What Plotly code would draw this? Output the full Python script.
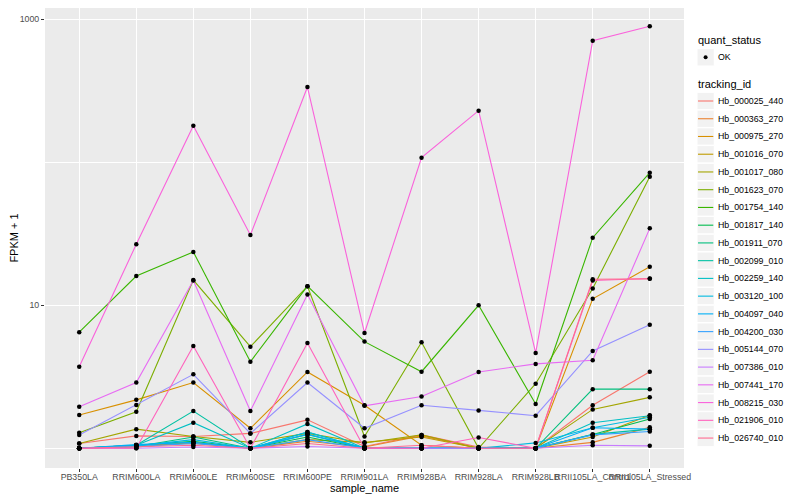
import plotly.graph_objects as go

samples = ["PB350LA", "RRIM600LA", "RRIM600LE", "RRIM600SE", "RRIM600PE",
           "RRIM901LA", "RRIM928BA", "RRIM928LA", "RRIM928LB",
           "RRII105LA_Control", "RRII105LA_Stressed"]

tracking_ids = ["Hb_000025_440", "Hb_000363_270", "Hb_000975_270", "Hb_001016_070",
                "Hb_001017_080", "Hb_001623_070", "Hb_001754_140", "Hb_001817_140",
                "Hb_001911_070", "Hb_002099_010", "Hb_002259_140", "Hb_003120_100",
                "Hb_004097_040", "Hb_004200_030", "Hb_005144_070", "Hb_007386_010",
                "Hb_007441_170", "Hb_008215_030", "Hb_021906_010", "Hb_026740_010"]

colors = ["#F8766D", "#EA8331", "#D89000", "#C09B00", "#A3A500", "#7CAE00",
          "#39B600", "#00BB4E", "#00BF7D", "#00C1A3", "#00BFC4", "#00BAE0",
          "#00B0F6", "#35A2FF", "#9590FF", "#C77CFF", "#E76BF3", "#FA62DB",
          "#FF62BC", "#FF6C91"]

quant_status = ["OK"]

# FPKM + 1 per sample
hb_000025_440 = [1.08, 1.22, 1.21, 1.27, 1.58, 1.03, 1.24, 1.02, 1.00, 2.00, 3.43]
hb_000363_270 = [1.00, 1.05, 1.08, 1.00, 1.12, 1.02, 1.22, 1.00, 1.00, 1.10, 1.40]
hb_000975_270 = [1.71, 2.18, 2.88, 1.38, 3.42, 2.00, 1.05, 1.00, 1.00, 11.1, 18.6]
hb_001016_070 = [1.00, 1.02, 1.10, 1.00, 1.15, 1.10, 1.20, 1.00, 1.00, 1.20, 1.70]
hb_001017_080 = [1.08, 1.36, 1.21, 1.10, 1.27, 1.09, 1.24, 1.00, 1.00, 1.87, 2.27]
hb_001623_070 = [1.285, 1.80, 15.0, 5.13, 13.6, 1.21, 5.51, 1.00, 2.83, 13.1, 79.3]
hb_001754_140 = [6.48, 16.0, 23.6, 4.03, 13.6, 5.57, 3.43, 10.0, 2.04, 29.7, 84.6]
hb_001817_140 = [1.00, 1.05, 1.12, 1.00, 1.20, 1.00, 1.00, 1.00, 1.00, 1.25, 1.60]
hb_001911_070 = [1.00, 1.03, 1.20, 1.00, 1.25, 1.00, 1.00, 1.00, 1.00, 2.59, 2.59]
hb_002099_010 = [1.00, 1.05, 1.82, 1.00, 1.30, 1.00, 1.00, 1.00, 1.00, 1.25, 1.36]
hb_002259_140 = [1.00, 1.05, 1.51, 1.00, 1.48, 1.00, 1.00, 1.00, 1.00, 1.51, 1.69]
hb_003120_100 = [1.00, 1.04, 1.15, 1.00, 1.30, 1.00, 1.00, 1.00, 1.09, 1.39, 1.65]
hb_004097_040 = [1.00, 1.06, 1.10, 1.00, 1.25, 1.00, 1.00, 1.00, 1.00, 1.39, 1.36]
hb_004200_030 = [1.00, 1.03, 1.08, 1.00, 1.15, 1.00, 1.00, 1.00, 1.00, 1.24, 1.31]
hb_005144_070 = [1.24, 2.01, 3.29, 1.27, 2.88, 1.38, 2.00, 1.84, 1.69, 4.79, 7.32]
hb_007386_010 = [1.00, 1.00, 1.02, 1.00, 1.03, 1.00, 1.00, 1.00, 1.00, 1.05, 1.04]
hb_007441_170 = [1.95, 2.88, 14.9, 1.82, 11.9, 1.98, 2.30, 3.42, 3.89, 4.13, 34.5]
hb_008215_030 = [3.72, 26.7, 180.0, 31.0, 336.0, 6.40, 107.7, 229.5, 4.64, 708.0, 894.0]
hb_021906_010 = [1.00, 1.00, 5.19, 1.00, 5.45, 1.00, 1.00, 1.19, 1.00, 14.9, 15.4]
hb_026740_010 = [1.00, 1.02, 1.05, 1.00, 1.08, 1.00, 1.05, 1.00, 1.00, 15.2, 15.3]

series = [hb_000025_440, hb_000363_270, hb_000975_270, hb_001016_070, hb_001017_080,
          hb_001623_070, hb_001754_140, hb_001817_140, hb_001911_070, hb_002099_010,
          hb_002259_140, hb_003120_100, hb_004097_040, hb_004200_030, hb_005144_070,
          hb_007386_010, hb_007441_170, hb_008215_030, hb_021906_010, hb_026740_010]

FONT = "Liberation Sans, Arial, sans-serif"

# figure is drawn inside the page body (8px offset), so size is 792x492
W, H = 792, 492
ML, MR, MT, MB = 37, 116, 0, 32
PW, PH = W - ML - MR, H - MT - MB


def px_x(rx):
    return (rx - 8 - ML) / PW


def px_y(ry):
    return (H - MB - (ry - 8)) / PH


fig = go.Figure()
for name, col, vals in zip(tracking_ids, colors, series):
    fig.add_trace(go.Scatter(
        x=samples, y=vals, mode="lines", name=name,
        line=dict(color=col, width=1.1), showlegend=False))

all_x, all_y = [], []
for vals in series:
    all_x += samples
    all_y += vals
fig.add_trace(go.Scatter(
    x=all_x, y=all_y, mode="markers", name=quant_status[0],
    marker=dict(color="black", size=4.5), showlegend=False))

# ---- manual ggplot-style legends ----
shapes = []
annotations = []
KEY = 17.28
kx0, kx1 = 697.0, 697.0 + KEY
tx = 715.8


def txt(text, ry, size, x=tx):
    annotations.append(dict(
        text=text, x=px_x(x), y=px_y(ry), xref="paper", yref="paper",
        xanchor="left", yanchor="middle", showarrow=False,
        font=dict(size=size, color="black", family=FONT)))


txt("quant_status", 40, 11, x=695.7)
ok_c = 57.3
shapes.append(dict(type="rect", xref="paper", yref="paper",
                   x0=px_x(kx0), x1=px_x(kx1), y0=px_y(ok_c + KEY / 2), y1=px_y(ok_c - KEY / 2),
                   fillcolor="#F2F2F2", line=dict(color="white", width=1), layer="above"))
shapes.append(dict(type="circle", xref="paper", yref="paper",
                   x0=px_x(705.6 - 2), x1=px_x(705.6 + 2), y0=px_y(ok_c + 2), y1=px_y(ok_c - 2),
                   fillcolor="black", line=dict(color="black", width=0), layer="above"))
txt(quant_status[0], ok_c, 8.8)

txt("tracking_id", 84, 11, x=695.7)
for i, (name, col) in enumerate(zip(tracking_ids, colors)):
    cy = 101 + 17.74 * i
    shapes.append(dict(type="rect", xref="paper", yref="paper",
                       x0=px_x(kx0), x1=px_x(kx1), y0=px_y(cy + KEY / 2), y1=px_y(cy - KEY / 2),
                       fillcolor="#F2F2F2", line=dict(color="white", width=1), layer="above"))
    shapes.append(dict(type="line", xref="paper", yref="paper",
                       x0=px_x(kx0 + 1), x1=px_x(kx1 - 1), y0=px_y(cy), y1=px_y(cy),
                       line=dict(color=col, width=1.1), layer="above"))
    txt(name, cy, 8.8)

fig.update_layout(
    width=W, height=H,
    margin=dict(l=ML, r=MR, t=MT, b=MB, autoexpand=False),
    paper_bgcolor="white", plot_bgcolor="#EBEBEB",
    font=dict(family=FONT, size=9, color="black"),
    showlegend=False,
    shapes=shapes, annotations=annotations,
    xaxis=dict(
        type="category", categoryorder="array", categoryarray=samples,
        range=[-0.6, 10.6], tickangle=0,
        showgrid=True, gridcolor="white", gridwidth=1.1,
        ticks="outside", ticklen=3, tickcolor="#333333",
        tickfont=dict(size=8.8, color="#4D4D4D"), ticklabelstandoff=-3,
        title=dict(text="sample_name", font=dict(size=11), standoff=0),
        zeroline=False, showline=False),
    yaxis=dict(
        type="log", range=[-0.138, 3.079],
        tickvals=[10, 1000], ticktext=["10", "1000"],
        showgrid=True, gridcolor="white", gridwidth=1.1,
        ticks="outside", ticklen=3, tickcolor="#333333",
        tickfont=dict(size=8.8, color="#4D4D4D"),
        minor=dict(tickvals=[1, 100], showgrid=True, gridcolor="white",
                   gridwidth=0.55, ticks=""),
        title=dict(text="FPKM + 1", font=dict(size=11), standoff=1),
        zeroline=False, showline=False),
)

fig.write_html("out.html")
